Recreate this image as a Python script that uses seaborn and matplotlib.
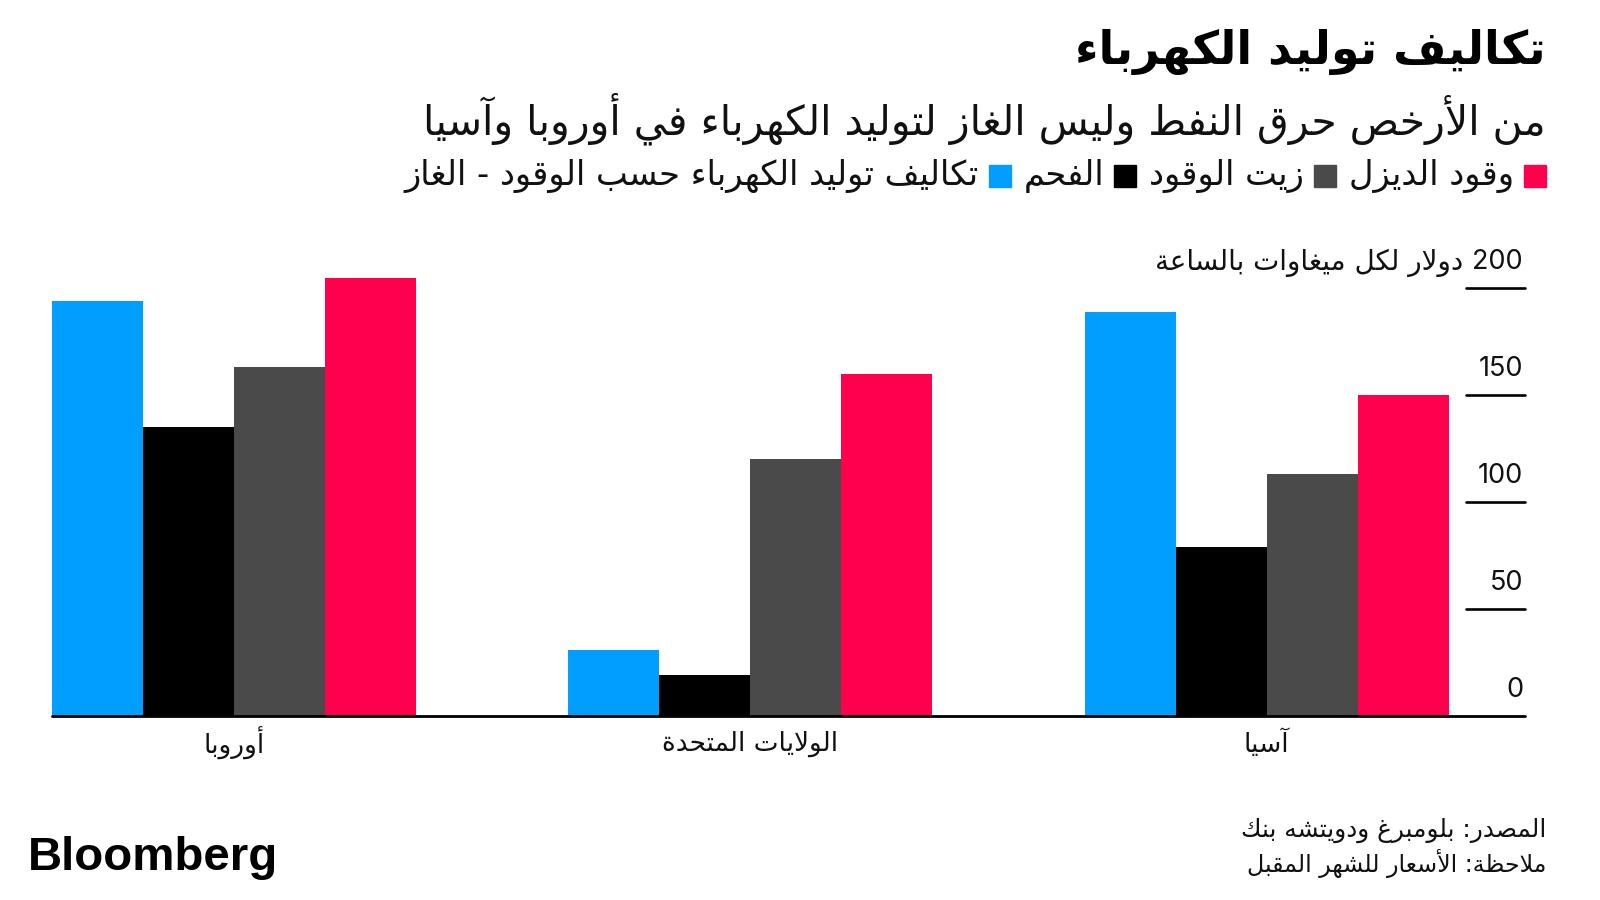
import matplotlib
matplotlib.use("Agg")
import matplotlib.pyplot as plt
import seaborn as sns
import pandas as pd
import re

# ---------------- data ----------------
regions = ["أوروبا", "الولايات المتحدة", "آسيا"]
fuels = ["الغاز", "الفحم", "زيت الوقود", "وقود الديزل"]
gas = [194, 31, 189]
coal = [135, 19, 79]
fuel_oil = [163, 120, 113]
diesel = [205, 160, 150]
colors = ["#019dff", "#000000", "#4a4a4a", "#ff004f"]
legend_labels = ["تكاليف توليد الكهرباء حسب الوقود - الغاز", "الفحم", "زيت الوقود", "وقود الديزل"]
yticks = [0, 50, 100, 150, 200]
title = "تكاليف توليد الكهرباء"
subtitle = "من الأرخص حرق النفط وليس الغاز لتوليد الكهرباء في أوروبا وآسيا"
unit = "دولار لكل ميغاوات بالساعة"
source = "المصدر: بلومبرغ ودويتشه بنك"
note = "ملاحظة: الأسعار للشهر المقبل"
brand = "Bloomberg"

# ---------------- Arabic shaping (contextual forms + RTL order) ----------------
_T = {}
for code, start, jt in [
    (0x0621, 0xFE80, 'U'), (0x0622, 0xFE81, 'R'), (0x0623, 0xFE83, 'R'), (0x0624, 0xFE85, 'R'),
    (0x0625, 0xFE87, 'R'), (0x0626, 0xFE89, 'D'), (0x0627, 0xFE8D, 'R'), (0x0628, 0xFE8F, 'D'),
    (0x0629, 0xFE93, 'R'), (0x062A, 0xFE95, 'D'), (0x062B, 0xFE99, 'D'), (0x062C, 0xFE9D, 'D'),
    (0x062D, 0xFEA1, 'D'), (0x062E, 0xFEA5, 'D'), (0x062F, 0xFEA9, 'R'), (0x0630, 0xFEAB, 'R'),
    (0x0631, 0xFEAD, 'R'), (0x0632, 0xFEAF, 'R'), (0x0633, 0xFEB1, 'D'), (0x0634, 0xFEB5, 'D'),
    (0x0635, 0xFEB9, 'D'), (0x0636, 0xFEBD, 'D'), (0x0637, 0xFEC1, 'D'), (0x0638, 0xFEC5, 'D'),
    (0x0639, 0xFEC9, 'D'), (0x063A, 0xFECD, 'D'), (0x0641, 0xFED1, 'D'), (0x0642, 0xFED5, 'D'),
    (0x0643, 0xFED9, 'D'), (0x0644, 0xFEDD, 'D'), (0x0645, 0xFEE1, 'D'), (0x0646, 0xFEE5, 'D'),
    (0x0647, 0xFEE9, 'D'), (0x0648, 0xFEED, 'R'), (0x0649, 0xFEEF, 'R'), (0x064A, 0xFEF1, 'D')]:
    _T[chr(code)] = (start, jt)
_LA = {'\u0622': 0xFEF5, '\u0623': 0xFEF7, '\u0625': 0xFEF9, '\u0627': 0xFEFB}


def ar(s):
    items = []
    i = 0
    while i < len(s):
        if s[i] == '\u0644' and i + 1 < len(s) and s[i + 1] in _LA:
            items.append(('LA', s[i + 1]))
            i += 2
        else:
            items.append((s[i], None))
            i += 1

    def jt(it):
        if it is None:
            return None
        if it[0] == 'LA':
            return 'R'
        return _T[it[0]][1] if it[0] in _T else None

    out = []
    for k, it in enumerate(items):
        t = jt(it)
        if t is None:
            out.append(it[0])
            continue
        prev = items[k - 1] if k > 0 else None
        nxt = items[k + 1] if k + 1 < len(items) else None
        jp = jt(prev) == 'D' and t in ('R', 'D')
        jn = t == 'D' and jt(nxt) in ('R', 'D')
        if it[0] == 'LA':
            out.append(chr(_LA[it[1]] + (1 if jp else 0)))
            continue
        start = _T[it[0]][0]
        if t == 'U':
            out.append(chr(start))
        elif t == 'R':
            out.append(chr(start + (1 if jp else 0)))
        else:
            off = 3 if (jp and jn) else 1 if jp else 2 if jn else 0
            out.append(chr(start + off))
    vis = ''.join(out)[::-1]
    vis = re.sub(r'[A-Za-z0-9.,]+', lambda m: m.group(0)[::-1], vis)
    return vis


# ---------------- figure ----------------
sns.set_theme(style="white")
plt.rcParams['font.family'] = ['DejaVu Sans']

W, H = 1600, 900
fig = plt.figure(figsize=(16, 9), dpi=100)
fig.patch.set_facecolor("white")


def P(x, y):
    return (x / W, 1 - y / H)


AX_L, AX_R, AX_B, AX_T = 52, 1525, 716, 256
ax = fig.add_axes([AX_L / W, 1 - AX_B / H, (AX_R - AX_L) / W, (AX_B - AX_T) / H])

df = pd.DataFrame({
    "region": regions * 4,
    "fuel": [f for f in fuels for _ in regions],
    "value": gas + coal + fuel_oil + diesel,
})

sns.barplot(data=df, x="region", y="value", hue="fuel", order=regions, hue_order=fuels,
            palette=colors, width=0.705, linewidth=0, saturation=1, legend=False, ax=ax,
            errorbar=None)

ax.set_xlim(-0.352, 2.5)
ax.set_ylim(0, (AX_B - AX_T) / 2.1385)
for s in ax.spines.values():
    s.set_visible(False)
ax.set_ylabel("")
ax.set_xlabel("")
ax.set_yticks([])
ax.set_xticks(range(len(regions)))
ax.set_xticklabels([ar(r) for r in regions], fontsize=19, color="#111111")
ax.tick_params(axis="x", length=0, pad=20)
for lab in ax.get_xticklabels():
    lab.set_verticalalignment("center")

# baseline and short right-side gridline marks
ax.axhline(0, color="black", lw=2.0, zorder=5, clip_on=False)
xmin_frac = (1466 - AX_L) / (AX_R - AX_L)
for v in yticks[1:]:
    ax.axhline(v, xmin=xmin_frac, xmax=1.0, color="black", lw=1.9, zorder=5, clip_on=False)
for v in yticks:
    ax.text(1.0 - 2 / (AX_R - AX_L), v + 8.8, str(v), transform=ax.get_yaxis_transform(),
            ha="right", va="baseline", fontsize=19.5, family="Inter", color="#111111")

fig.canvas.draw()
renderer = fig.canvas.get_renderer()


def fit_text(s, xr, yc, target_w, fs0, **kw):
    t = fig.text(*P(xr, yc), s, ha="right", va="center", fontsize=fs0, **kw)
    w = t.get_window_extent(renderer).width
    t.set_fontsize(fs0 * target_w / w)
    return t


# unit label, left of "200"
fit_text(ar(unit), 1463, 263, 308, 18, color="#111111")

# title + subtitle
fit_text(ar(title), 1546, 52, 470, 36, weight="bold", color="black")
fit_text(ar(subtitle), 1546, 119, 1121, 26, color="#111111")

# legend (drawn right-to-left)
sq = 22
gap1, gap2 = 10, 12
texts = [fig.text(0, 0, ar(l), ha="right", va="center", fontsize=20, color="#111111")
         for l in legend_labels]
tw = [t.get_window_extent(renderer).width for t in texts]
fixed = 4 * sq + 4 * gap1 + 3 * gap2
scale = (1546 - 401 - fixed) / sum(tw)
for t in texts:
    t.set_fontsize(20 * scale)
x = 1546
yl = 176
for i in [3, 2, 1, 0]:
    fig.patches.append(plt.Rectangle(P(x - sq, yl + sq / 2), sq / W, sq / H,
                                     transform=fig.transFigure, color=colors[i], figure=fig))
    x -= sq + gap1
    texts[i].set_position(P(x, yl))
    x -= tw[i] * scale + gap2

# footer
fit_text(ar(source), 1546, 830, 306, 16, color="#111111")
fit_text(ar(note), 1546, 864, 300, 16, color="#111111")
b = fig.text(*P(28, 858), brand, ha="left", va="center", fontsize=30, weight="bold",
             family="Liberation Sans", color="black")
bw = b.get_window_extent(renderer).width
b.set_fontsize(30 * 250 / bw)

fig.savefig("out.png", dpi=100, facecolor="white")
